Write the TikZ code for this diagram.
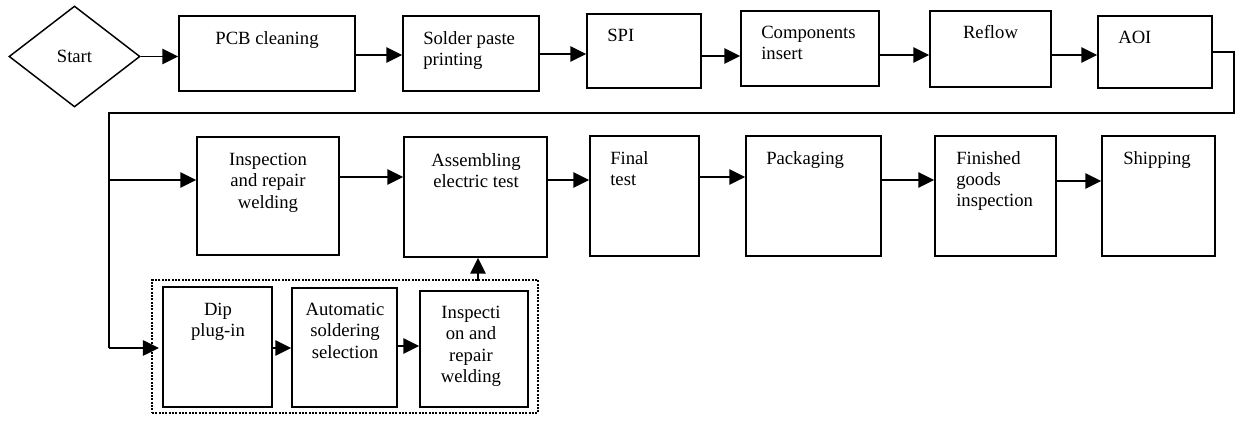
\documentclass[tikz,border=0pt]{standalone}
\usepackage{fontspec}
\setmainfont{Liberation Serif}
\usetikzlibrary{arrows.meta,fit,shapes.geometric}

\tikzset{
  x=0.75pt, y=-0.75pt,
  procbox/.style={draw, line width=1.1pt, inner sep=0pt, rectangle},
  groupbox/.style={draw, line width=1.8pt, inner sep=0pt, rectangle,
    dash pattern=on 1.4pt off 1.1pt},
  lblc/.style={inner sep=0pt, anchor=north, align=center,
    font=\fontsize{14pt}{16pt}\selectfont},
  lbll/.style={inner sep=0pt, anchor=north west, align=left,
    font=\fontsize{14pt}{16pt}\selectfont},
  flow/.style={line width=1.3pt, -{Triangle[length=12pt,width=11.5pt]}},
  ret/.style={line width=1.8pt},
}

\begin{document}
\begin{tikzpicture}
\useasboundingbox (0,0) rectangle (1242,423);

% --- first line of the process ---
\node[draw, diamond, line width=1.1pt, inner sep=0pt,
      minimum width=98.25pt, minimum height=75.75pt,
      font=\fontsize{14pt}{16pt}\selectfont] (start) at (74.5,56.5) {Start};

\node[procbox, fit={(179,16) (355,91)}] (pcb) {};
\node[procbox, fit={(403,16) (539,91)}] (solder) {};
\node[procbox, fit={(587,14) (701,88)}] (spi) {};
\node[procbox, fit={(741,11) (879,86)}] (comp) {};
\node[procbox, fit={(930,11) (1051,87)}] (reflow) {};
\node[procbox, fit={(1098,16) (1212,88)}] (aoi) {};

\node[lblc] (pcb-t) at (267,31) {PCB cleaning};
\node[lbll] (solder-t) at (423,31) {Solder paste\\printing};
\node[lbll] (spi-t) at (607,29) {SPI};
\node[lbll] (comp-t) at (761,26) {Components\\insert};
\node[lblc] (reflow-t) at (990.5,25) {Reflow};
\node[lbll] (aoi-t) at (1118,31) {AOI};

% --- second line of the process ---
\node[procbox, fit={(197,137) (339,255)}] (insp) {};
\node[procbox, fit={(404,137) (547,257)}] (asm) {};
\node[procbox, fit={(590,136) (699,256)}] (final) {};
\node[procbox, fit={(746,136) (881,256)}] (pack) {};
\node[procbox, fit={(935,136) (1056,256)}] (fin) {};
\node[procbox, fit={(1102,136) (1215,256)}] (ship) {};

\node[lblc] (insp-t) at (268,153) {Inspection\\and repair\\welding};
\node[lblc] (asm-t) at (476,153) {Assembling\\electric test};
\node[lbll] (final-t) at (610,151) {Final\\test};
\node[lbll] (pack-t) at (766,151) {Packaging};
\node[lbll] (fin-t) at (956,151) {Finished\\goods\\inspection};
\node[lbll] (ship-t) at (1123,151) {Shipping};

% --- DIP sub-process ---
\node[groupbox, fit={(152,280) (538,413)}] (grp) {};
\node[procbox, fit={(163,287) (272,407)}] (dip) {};
\node[procbox, fit={(292,288) (397,407)}] (auto) {};
\node[procbox, fit={(420,291) (528,407)}] (insp2) {};

\node[lblc] (dip-t) at (218,303) {Dip\\plug-in};
\node[lblc] (auto-t) at (345,303) {Automatic\\soldering\\selection};
\node[lblc] (insp2-t) at (471,306) {Inspecti\\on and\\repair\\welding};

% --- routing points ---
\coordinate (r1) at (1234,113);
\coordinate (l1) at (109,113);
\coordinate (br) at (109,180);
\coordinate (l2) at (109,348);
\coordinate (up) at (478,281);

% --- connectors, first line ---
\draw[flow] (start.east) -- (start.east -| pcb.west);
\draw[flow] (pcb.east |- 0,55) -- (solder.west |- 0,55);
\draw[flow] (solder.east |- 0,54) -- (spi.west |- 0,54);
\draw[flow] (spi.east |- 0,56) -- (comp.west |- 0,56);
\draw[flow] (comp.east |- 0,55) -- (reflow.west |- 0,55);
\draw[flow] (reflow.east |- 0,55) -- (aoi.west |- 0,55);

% --- return line to the second line ---
\draw[ret] (aoi.east |- 0,52) -| (r1) -- (l1) -- (l2);
\draw[flow] (l2) -- ([xshift=-2.5pt]dip.west |- l2);
\draw[flow] (br) -- (insp.west |- br);

% --- connectors, second line ---
\draw[flow] (insp.east |- 0,177) -- (asm.west |- 0,177);
\draw[flow] (asm.east |- 0,180) -- (final.west |- 0,180);
\draw[flow] (final.east |- 0,177) -- (pack.west |- 0,177);
\draw[flow] (pack.east |- 0,180) -- (fin.west |- 0,180);
\draw[flow] (fin.east |- 0,181) -- (ship.west |- 0,181);

% --- connectors, DIP sub-process ---
\draw[flow] (dip.east |- 0,348) -- (auto.west |- 0,348);
\draw[flow] (auto.east |- 0,346) -- (insp2.west |- 0,346);
\draw[flow] (up) -- (up |- asm.south);
\end{tikzpicture}
\end{document}
